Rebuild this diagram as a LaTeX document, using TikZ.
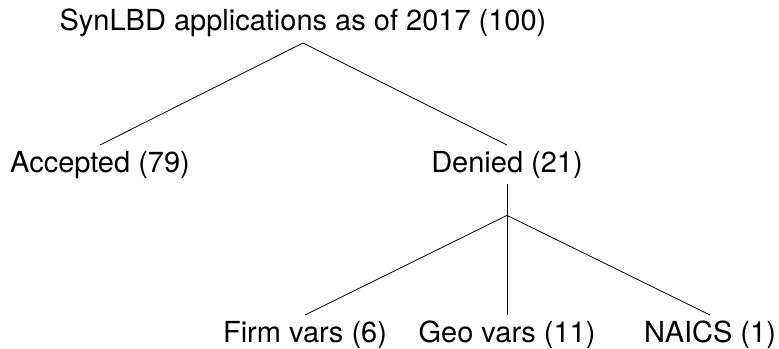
\documentclass[tikz,border=0pt]{standalone}
\usepackage{fontspec}
\setmainfont{TeX Gyre Heros}
\begin{document}
\begin{tikzpicture}[x=1bp,y=1bp,
  leaf/.style={font=\fontsize{29bp}{34bp}\selectfont, inner xsep=0pt,
    inner ysep=6bp, text height=21bp, text depth=6bp},
  branch/.style={line width=0.8bp, black}]
\useasboundingbox (0,0) rectangle (779,348);
% top level
\node[leaf, anchor=south] (root) at (303,305) {SynLBD applications as of 2017 (100)};
% first split
\node[leaf, anchor=north] (acc) at (100,203) {Accepted (79)};
\node[leaf, anchor=north] (den) at (507,203) {Denied (21)};
% reasons for denial
\coordinate (split) at ([yshift=-31bp]den.south);
\node[leaf, anchor=north] (firm) at (305,33) {Firm vars (6)};
\node[leaf, anchor=north] (geo) at (507,33) {Geo vars (11)};
\node[leaf, anchor=north] (naics) at (710,33) {NAICS (1)};
% edges
\draw[branch] (root.south) -- (acc.north);
\draw[branch] (root.south) -- (den.north);
\draw[branch] (den.south) -- (geo.north);
\draw[branch] (split) -- (firm.north);
\draw[branch] (split) -- (naics.north);
\end{tikzpicture}
\end{document}
